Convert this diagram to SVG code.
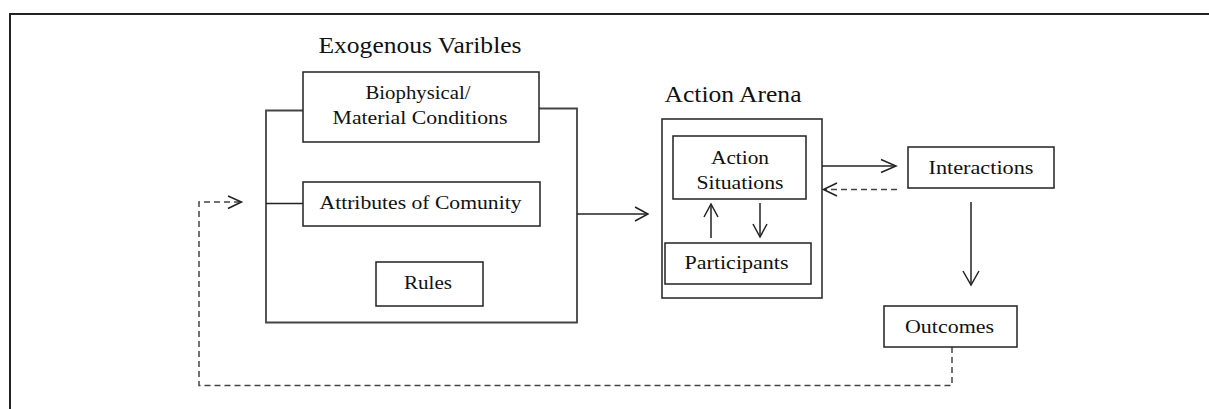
<svg xmlns="http://www.w3.org/2000/svg" width="1209" height="409" viewBox="0 0 1209 409">
<style>
  .box { fill: #fff; stroke: #222; stroke-width: 1.5; }
  .ln { fill: none; stroke: #222; stroke-width: 1.5; }
  .brk { fill: none; stroke: #444; stroke-width: 1.8; }
  .dash { fill: none; stroke: #444; stroke-width: 1.5; stroke-dasharray: 6 4; }
  .ah { fill: none; stroke: #222; stroke-width: 1.5; stroke-linejoin: miter; }
  text { font-family: 'Liberation Serif', 'Times New Roman', 'DejaVu Serif', serif; fill: #111; text-anchor: middle; }
  .t { font-size: 19px; }
  .h { font-size: 24px; }
</style>
<rect x="0" y="0" width="1209" height="409" fill="#fff"/>
<path d="M10,409 V14 H1209" fill="none" stroke="#222" stroke-width="2"/>

<text id="title-exo" class="h" x="420" y="53" textLength="203" lengthAdjust="spacingAndGlyphs" font-family="Liberation Serif, serif">Exogenous Varibles</text>
<text id="title-arena" class="h" x="733" y="101.5" textLength="137" lengthAdjust="spacingAndGlyphs" font-family="Liberation Serif, serif">Action Arena</text>

<g id="connectors">
  <path class="brk" d="M303,110.5 H266 V322.5 H577 V108.5 H539"/>
  <path class="ln" d="M266,203.5 H303"/>
  <path class="ln" d="M577,214 H647"/>
  <path class="ah" d="M635,207 L648,214 L635,221"/>
  <path class="ln" d="M711,238 V205"/>
  <path class="ah" d="M704,217 L711,204 L718,217"/>
  <path class="ln" d="M760,203 V236"/>
  <path class="ah" d="M753,224 L760,237 L767,224"/>
  <path class="ln" d="M822,166 H895"/>
  <path class="ah" d="M881,159.5 L896,166 L881,172.5"/>
  <path class="dash" d="M897,189.5 H825"/>
  <path class="ah" d="M837,183 L823.5,189.5 L837,196"/>
  <path class="ln" d="M971,202 V284"/>
  <path class="ah" d="M963,271 L971,285 L979,271"/>
  <path class="dash" d="M952,347 V385.5 H199 V202 H240"/>
  <path class="ah" d="M228,196 L241.5,202 L228,208.5"/>
</g>

<g id="node-biophysical">
  <rect class="box" x="303" y="72" width="236" height="70"/>
  <text class="t" x="418" y="99" textLength="105" lengthAdjust="spacingAndGlyphs">Biophysical/</text>
  <text class="t" x="420" y="124" textLength="175" lengthAdjust="spacingAndGlyphs">Material Conditions</text>
</g>
<g id="node-attributes">
  <rect class="box" x="303" y="182" width="237" height="44"/>
  <text class="t" x="420.5" y="209" textLength="202" lengthAdjust="spacingAndGlyphs">Attributes of Comunity</text>
</g>
<g id="node-rules">
  <rect class="box" x="376" y="262" width="107" height="44"/>
  <text class="t" x="428" y="289" textLength="48" lengthAdjust="spacingAndGlyphs">Rules</text>
</g>
<g id="node-arena">
  <rect x="662" y="119" width="160" height="179" fill="none" stroke="#222" stroke-width="1.5"/>
</g>
<g id="node-situations">
  <rect class="box" x="673" y="136" width="133" height="63"/>
  <text class="t" x="740" y="163.5" textLength="58" lengthAdjust="spacingAndGlyphs">Action</text>
  <text class="t" x="740" y="188.5" textLength="87" lengthAdjust="spacingAndGlyphs">Situations</text>
</g>
<g id="node-participants">
  <rect class="box" x="665" y="243" width="146" height="41"/>
  <text class="t" x="736.5" y="268.5" textLength="104" lengthAdjust="spacingAndGlyphs">Participants</text>
</g>
<g id="node-interactions">
  <rect class="box" x="908" y="147" width="146" height="41"/>
  <text class="t" x="981" y="173.5" textLength="105" lengthAdjust="spacingAndGlyphs">Interactions</text>
</g>
<g id="node-outcomes">
  <rect class="box" x="884" y="306" width="133" height="41"/>
  <text class="t" x="949.5" y="332.5" textLength="89" lengthAdjust="spacingAndGlyphs">Outcomes</text>
</g>
</svg>
